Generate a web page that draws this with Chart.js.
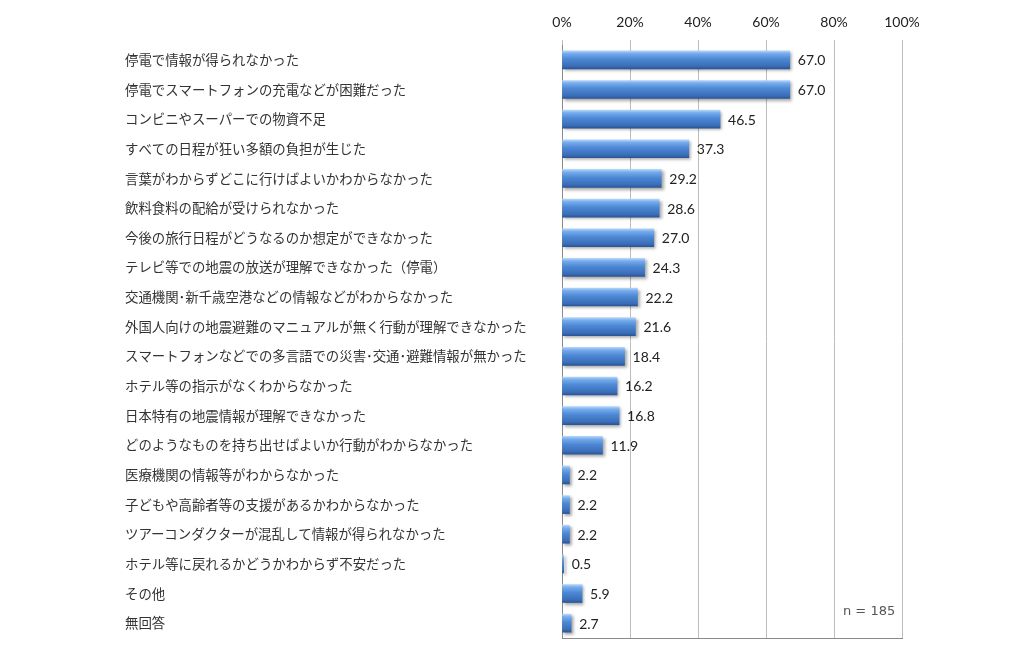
<!DOCTYPE html>
<html><head><meta charset="utf-8">
<script src="https://cdn.jsdelivr.net/npm/chart.js@4/dist/chart.umd.min.js"></script>
<style>html,body{margin:0;padding:0;background:#fff}#wrap{width:1024px;height:649px}</style>
</head><body><div id="wrap"><canvas id="c" width="1024" height="649"></canvas></div>
<script>
const categories = [
  "停電で情報が得られなかった",
  "停電でスマートフォンの充電などが困難だった",
  "コンビニやスーパーでの物資不足",
  "すべての日程が狂い多額の負担が生じた",
  "言葉がわからずどこに行けばよいかわからなかった",
  "飲料食料の配給が受けられなかった",
  "今後の旅行日程がどうなるのか想定ができなかった",
  "テレビ等での地震の放送が理解できなかった（停電）",
  "交通機関･新千歳空港などの情報などがわからなかった",
  "外国人向けの地震避難のマニュアルが無く行動が理解できなかった",
  "スマートフォンなどでの多言語での災害･交通･避難情報が無かった",
  "ホテル等の指示がなくわからなかった",
  "日本特有の地震情報が理解できなかった",
  "どのようなものを持ち出せばよいか行動がわからなかった",
  "医療機関の情報等がわからなかった",
  "子どもや高齢者等の支援があるかわからなかった",
  "ツアーコンダクターが混乱して情報が得られなかった",
  "ホテル等に戻れるかどうかわからず不安だった",
  "その他",
  "無回答"
];
const values = [67.0, 67.0, 46.5, 37.3, 29.2, 28.6, 27.0, 24.3, 22.2, 21.6, 18.4, 16.2, 16.8, 11.9, 2.2, 2.2, 2.2, 0.5, 5.9, 2.7];
const tickValues = [0, 20, 40, 60, 80, 100];
const sampleNote = "n = 185";

const BAR_H = 18;
function barFill(ctx) {
  const chart = ctx.chart;
  if (!chart.chartArea || !chart.scales.y) return '#4a86d0';
  const yc = chart.scales.y.getPixelForValue(ctx.dataIndex);
  const g = chart.ctx.createLinearGradient(0, yc - BAR_H/2, 0, yc + BAR_H/2);
  g.addColorStop(0, '#b4d4f8');
  g.addColorStop(0.15, '#76acee');
  g.addColorStop(0.45, '#4d88d4');
  g.addColorStop(0.85, '#3a6db8');
  g.addColorStop(1, '#2b5597');
  return g;
}

const shadowPlugin = {
  id: 'shadow',
  beforeDatasetsDraw(chart) {
    const c = chart.ctx; c.save();
    c.shadowColor = 'rgba(0,0,0,0.35)';
    c.shadowBlur = 3; c.shadowOffsetX = 2; c.shadowOffsetY = 2;
  },
  afterDatasetsDraw(chart) { chart.ctx.restore(); }
};

const labelPlugin = {
  id: 'vals',
  afterDraw(chart) {
    const c = chart.ctx;
    const meta = chart.getDatasetMeta(0);
    const area = chart.chartArea;
    c.save();
    c.strokeStyle = '#8a8a8a'; c.lineWidth = 1;
    c.beginPath(); c.moveTo(area.left, Math.round(area.bottom) + 0.5); c.lineTo(area.right + 1, Math.round(area.bottom) + 0.5); c.stroke();
    c.font = '14px Lato, "Noto Sans", sans-serif';
    c.fillStyle = '#222'; c.textBaseline = 'middle'; c.textAlign = 'left';
    meta.data.forEach((bar, i) => {
      c.fillText(values[i].toFixed(1), bar.x + 8, bar.y + 1);
    });
    c.fillStyle = '#555';
    c.font = '13px "DejaVu Sans", sans-serif';
    c.fillText(sampleNote, 843, 612);
    c.restore();
  }
};

new Chart(document.getElementById('c'), {
  type: 'bar',
  data: {
    labels: categories,
    datasets: [{
      data: values,
      backgroundColor: barFill,
      borderWidth: 0,
      barThickness: BAR_H
    }]
  },
  options: {
    indexAxis: 'y',
    responsive: false,
    animation: false,
    devicePixelRatio: 1,
    layout: { padding: { left: 125, right: 122, top: 8, bottom: 11 } },
    plugins: { legend: { display: false }, tooltip: { enabled: false } },
    scales: {
      x: {
        position: 'top',
        min: 0, max: 100,
        afterBuildTicks(scale) { scale.ticks = tickValues.map(v => ({ value: v })); },
        afterFit(scale) { scale.height = 37; },
        ticks: {
          callback: v => v + '%',
          color: '#222',
          font: { family: 'Lato, "Noto Sans", sans-serif', size: 14 },
          padding: 9,
          maxRotation: 0
        },
        grid: { color: '#bdbdbd', tickLength: 5, drawTicks: true, tickColor: '#bdbdbd' },
        border: { display: false }
      },
      y: {
        afterFit(scale) { scale.width = 562 - 125; },
        ticks: {
          crossAlign: 'far',
          color: '#333',
          font: { family: '"Noto Sans CJK JP", sans-serif', size: 13.4 },
          autoSkip: false,
          padding: 0
        },
        grid: { display: false, drawTicks: false },
        border: { display: true, color: '#8a8a8a' }
      }
    }
  },
  plugins: [shadowPlugin, labelPlugin]
});
</script></body></html>
